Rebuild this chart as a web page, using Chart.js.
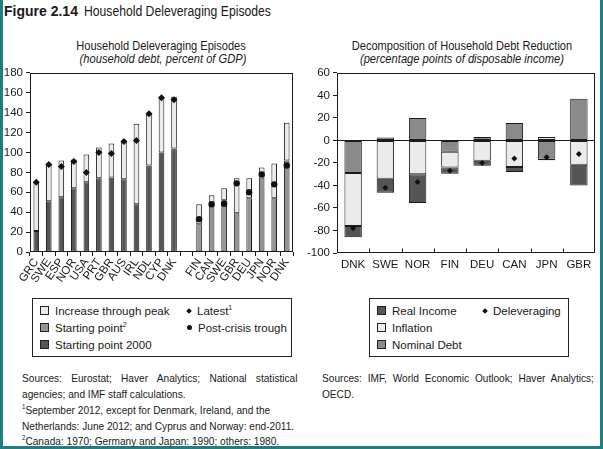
<!DOCTYPE html>
<html>
<head>
<meta charset="utf-8">
<script src="https://cdn.jsdelivr.net/npm/chart.js@4.4.1/dist/chart.umd.min.js"></script>
<style>
  body { margin: 0; background: #fff; }
  #page { position: relative; width: 603px; height: 449px; overflow: hidden; background: #fff;
          font-family: "Liberation Sans", Arial, sans-serif; color: #1a1a1a; }
  .edge { position: absolute; background: #1d7f7f; }
  .txt { position: absolute; white-space: nowrap; transform-origin: 0 0; }
  .ctr { position: absolute; white-space: nowrap; font-size: 12px; line-height: 14px; }
  canvas { position: absolute; }
  .legend { position: absolute; border: 1px solid #222; box-sizing: border-box; font-size: 11.5px; }
  .item { position: absolute; white-space: nowrap; line-height: 14px; }
  .sw { display: inline-block; width: 7px; height: 7px; border: 1px solid #222; margin-right: 6px; vertical-align: 0px; }
  .dia { display: inline-block; width: 4px; height: 4px; background: #111; transform: rotate(45deg); margin: 0 6px 1px 1px; vertical-align: 1px; }
  .dot { display: inline-block; width: 5px; height: 5px; border-radius: 50%; background: #111; margin: 0 6px 1px 1px; vertical-align: 1px; }
  sup { font-size: 7px; vertical-align: 5px; line-height: 0; }
  .note { position: absolute; white-space: nowrap; font-size: 11.5px; line-height: 14px; transform-origin: 0 0;
          transform: scaleX(0.88); }
  .just { text-align: justify; text-align-last: justify; }
</style>
</head>
<body>
<div id="page">
  <div class="edge" style="left:0;top:0;width:3px;height:449px"></div>
  <div class="edge" style="left:600px;top:0;width:3px;height:449px"></div>
  <div class="edge" style="left:0;top:446px;width:603px;height:3px"></div>

  <div class="txt" style="left:4px;top:3px;font-size:14px;font-weight:bold">Figure 2.14</div>
  <div class="txt" style="left:84px;top:3px;font-size:14px;transform:scaleX(0.87)">Household Deleveraging Episodes</div>

  <div class="ctr" style="left:161px;top:39px;transform:translateX(-50%) scaleX(0.92)">Household Deleveraging Episodes</div>
  <div class="ctr" style="left:163px;top:52px;font-style:italic;transform:translateX(-50%) scaleX(0.93)">(household debt, percent of GDP)</div>
  <div class="ctr" style="left:462px;top:39px;transform:translateX(-50%) scaleX(0.92)">Decomposition of Household Debt Reduction</div>
  <div class="ctr" style="left:462px;top:52px;font-style:italic;transform:translateX(-50%) scaleX(0.93)">(percentage points of disposable income)</div>

  <canvas id="episodes" style="left:0;top:63px" width="300" height="224"></canvas>
  <canvas id="decomp" style="left:300px;top:63px" width="303" height="232"></canvas>

  <div class="legend" style="left:32px;top:298px;width:260px;height:59px">
    <div class="item" style="left:7px;top:5px"><span class="sw" style="background:#ebebeb"></span>Increase through peak</div>
    <div class="item" style="left:7px;top:22px"><span class="sw" style="background:#959595"></span>Starting point<sup>2</sup></div>
    <div class="item" style="left:7px;top:39px"><span class="sw" style="background:#555"></span>Starting point 2000</div>
    <div class="item" style="left:153px;top:5px"><span class="dia"></span>Latest<sup>1</sup></div>
    <div class="item" style="left:153px;top:22px"><span class="dot"></span>Post-crisis trough</div>
  </div>

  <div class="legend" style="left:369px;top:298px;width:200px;height:59px">
    <div class="item" style="left:7px;top:5px"><span class="sw" style="background:#555"></span>Real Income</div>
    <div class="item" style="left:7px;top:22px"><span class="sw" style="background:#ebebeb"></span>Inflation</div>
    <div class="item" style="left:7px;top:39px"><span class="sw" style="background:#8a8a8a"></span>Nominal Debt</div>
    <div class="item" style="left:112px;top:5px"><span class="dia"></span>Deleveraging</div>
  </div>

  <div class="note just" style="left:22px;top:371px;width:313px">Sources: Eurostat; Haver Analytics; National statistical</div>
  <div class="note" style="left:22px;top:387px">agencies; and IMF staff calculations.</div>
  <div class="note" style="left:22px;top:403px"><sup>1</sup>September 2012, except for Denmark, Ireland, and the</div>
  <div class="note" style="left:22px;top:419px">Netherlands: June 2012; and Cyprus and Norway: end-2011.</div>
  <div class="note" style="left:22px;top:434px"><sup>2</sup>Canada: 1970; Germany and Japan: 1990; others: 1980.</div>
  <div class="note just" style="left:322px;top:371px;width:309px">Sources: IMF, World Economic Outlook; Haver Analytics;</div>
  <div class="note" style="left:322px;top:387px">OECD.</div>
</div>

<script>
// left panel: household debt, percent of GDP
const episodeLabels = ['GRC', 'SWE', 'ESP', 'NOR', 'USA', 'PRT', 'GBR', 'AUS', 'IRL', 'NDL', 'CYP', 'DNK', '',
  'FIN', 'CAN', 'SWE', 'GBR', 'DEU', 'JPN', 'NOR', 'DNK'];
const start2000 = [21, 51, 55, 64, 70, 74, 75, 73, 48, 87, 100, 104, null,
  null, null, null, null, null, null, null, null];
const startEarlier = [null, null, null, null, null, null, null, null, null, null, null, null, null,
  28, 47, 52, 39, 54, 75, 54, 92];
const peakDebt = [70, 88, 92, 93, 98, 105, 109, 112, 129, 140, 156, 156, null,
  48, 57, 64, 74, 74, 85, 89, 130];
const latestDebt = [70, 88, 86, 91, 80, 100, 99, 111, 112, 139, 155, 153, null,
  null, null, null, null, null, null, null, null];
const troughDebt = [null, null, null, null, null, null, null, null, null, null, null, null, null,
  33, 48, 48.5, 69, 60, 78, 68, 87];
const episodeTicks = [0, 20, 40, 60, 80, 100, 120, 140, 160, 180];

// right panel: percentage points of disposable income
const debtCountries = ['DNK', 'SWE', 'NOR', 'FIN', 'DEU', 'CAN', 'JPN', 'GBR'];
const nominalDebt = [-29, 2.5, 20, -10, 3, 15.5, -16, 37];
const inflation = [-47, -34, -30, -14, -18, -23.5, 3, -21.5];
const realIncome = [-10, -12.5, -25.5, -5.5, -4.5, -4.5, -1.5, -18.5];
const deleveraging = [-78, -42, -37, -27, -20, -16, -15, -12];

const FONT = "'Liberation Sans', Arial, sans-serif";
const INK = '#1a1a1a';
Chart.defaults.font.family = FONT;
Chart.defaults.color = INK;
Chart.defaults.animation = false;

// box round the plot area, plus optional inward ticks between categories
const frame = {
  id: 'frame',
  afterDraw(chart, args, opts) {
    const { ctx, chartArea: a } = chart;
    ctx.save();
    ctx.strokeStyle = INK;
    ctx.lineWidth = 1;
    const l = Math.round(a.left) + 0.5, t = Math.round(a.top) + 0.5;
    const r = Math.round(a.right) - 0.5, b = Math.round(a.bottom) - 0.5;
    ctx.strokeRect(l, t, r - l, b - t);
    if (opts.innerTicks) {
      const x = chart.scales.x;
      ctx.beginPath();
      for (let i = 0; i < x.ticks.length - 1; i++) {
        const px = Math.round((x.getPixelForValue(i) + x.getPixelForValue(i + 1)) / 2) + 0.5;
        ctx.moveTo(px, b);
        ctx.lineTo(px, b - 4);
      }
      ctx.stroke();
    }
    ctx.restore();
  }
};

new Chart(document.getElementById('episodes'), {
  type: 'bar',
  data: {
    labels: episodeLabels,
    datasets: [
      {
        type: 'line', label: 'Latest', data: latestDebt, showLine: false,
        pointStyle: 'rectRot', pointRadius: 3.5, backgroundColor: '#111', borderColor: '#111', borderWidth: 0
      },
      {
        type: 'line', label: 'Post-crisis trough', data: troughDebt, showLine: false,
        pointStyle: 'circle', pointRadius: 3.2, backgroundColor: '#111', borderColor: '#111', borderWidth: 0
      },
      {
        label: 'Increase through peak',
        data: peakDebt.map((p, i) => p == null ? null : [start2000[i] ?? startEarlier[i], p]),
        backgroundColor: '#ebebeb', borderColor: INK, borderWidth: 1, borderSkipped: false
      },
      {
        label: 'Starting point', data: startEarlier,
        backgroundColor: '#959595', borderColor: INK, borderWidth: 1, borderSkipped: false
      },
      {
        label: 'Starting point 2000', data: start2000,
        backgroundColor: '#555555', borderColor: INK, borderWidth: 1, borderSkipped: false
      }
    ]
  },
  options: {
    responsive: false,
    barPercentage: 0.45,
    categoryPercentage: 1,
    layout: { padding: { left: 0, right: 7, top: 7, bottom: 0 } },
    plugins: { legend: { display: false }, tooltip: { enabled: false }, frame: {} },
    scales: {
      x: {
        stacked: true,
        afterFit: s => { s.height = 35; },
        border: { display: false },
        grid: { offset: true, drawOnChartArea: false, tickLength: 4, tickColor: INK },
        ticks: { autoSkip: false, minRotation: 55, maxRotation: 55, padding: 0, font: { size: 11.5 } }
      },
      y: {
        min: 0, max: 180,
        afterBuildTicks: s => { s.ticks = episodeTicks.map(v => ({ value: v })); },
        afterFit: s => { s.width = 30; },
        border: { display: false },
        grid: { drawOnChartArea: false, tickLength: 4, tickColor: INK },
        ticks: { padding: 3, font: { size: 11.5 } }
      }
    }
  },
  plugins: [frame]
});

new Chart(document.getElementById('decomp'), {
  type: 'bar',
  data: {
    labels: debtCountries,
    datasets: [
      {
        type: 'line', label: 'Deleveraging', data: deleveraging, stack: 'marker', showLine: false,
        pointStyle: 'rectRot', pointRadius: 3, backgroundColor: '#111', borderColor: '#111', borderWidth: 0
      },
      {
        label: 'Nominal Debt', data: nominalDebt, stack: 'parts',
        backgroundColor: '#8a8a8a', borderColor: INK, borderWidth: 1, borderSkipped: false
      },
      {
        label: 'Inflation', data: inflation, stack: 'parts',
        backgroundColor: '#ebebeb', borderColor: INK, borderWidth: 1, borderSkipped: false
      },
      {
        label: 'Real Income', data: realIncome, stack: 'parts',
        backgroundColor: '#555555', borderColor: INK, borderWidth: 1, borderSkipped: false
      }
    ]
  },
  options: {
    responsive: false,
    barPercentage: 0.54,
    categoryPercentage: 1,
    layout: { padding: { left: 0, right: 8, top: 7, bottom: 22 } },
    plugins: { legend: { display: false }, tooltip: { enabled: false }, frame: { innerTicks: true } },
    scales: {
      x: {
        stacked: true,
        afterFit: s => { s.height = 20; },
        border: { display: false },
        grid: { display: false, drawTicks: false },
        ticks: { padding: 5, minRotation: 0, maxRotation: 0, font: { size: 11.5 } }
      },
      y: {
        stacked: true,
        min: -100, max: 60,
        afterFit: s => { s.width = 37; },
        ticks: { stepSize: 20, padding: 3, font: { size: 11.5 } },
        border: { display: false },
        grid: {
          drawOnChartArea: true, tickLength: 4, tickColor: INK, lineWidth: 1,
          color: c => c.tick && c.tick.value === 0 ? INK : 'rgba(0,0,0,0)'
        }
      }
    }
  },
  plugins: [frame]
});
</script>
</body>
</html>
